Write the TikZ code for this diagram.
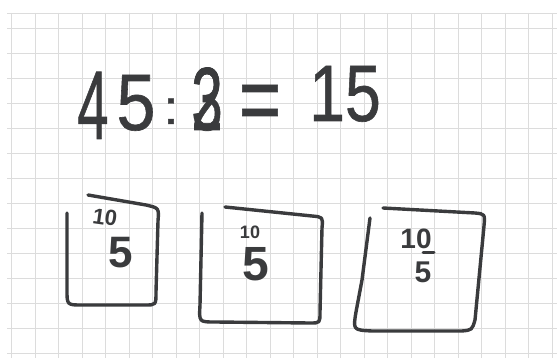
\documentclass[tikz,border=0pt]{standalone}
\usepackage{fontspec}
\setmainfont{Liberation Sans}
\newfontfamily\eqfont[FakeBold=0.8]{Liberation Sans}
\definecolor{ink}{HTML}{3A3B3D}
\definecolor{gridc}{HTML}{DCDCDC}
\begin{document}
\begin{tikzpicture}[x=1pt,y=-1pt,
  gridline/.style={draw=gridc,line width=0.9pt},
  boxline/.style={draw=ink,line width=3.4pt,line cap=round,line join=round},
  tight/.style={inner sep=0pt,anchor=base},
  big/.style={tight,text=ink,xscale=0.7,font=\eqfont\fontsize{80}{80}\selectfont},
  sm/.style={tight,text=ink,font=\bfseries\fontsize{22}{22}\selectfont},
  mid/.style={tight,text=ink,font=\bfseries\fontsize{44}{44}\selectfont}]
\useasboundingbox (0,0) rectangle (557,358);
\fill[white] (0,0) rectangle (557,358);
% grid
\foreach \i in {0,...,23} {
  \draw[gridline] ({11.5+23.5*\i},13) -- ({11.5+23.5*\i},358);
}
\foreach \j in {0,...,13} {
  \draw[gridline] (7,{28+25*\j}) -- (557,{28+25*\j});
}
\draw[gridline] (7,13) -- (557,13);
% equation
\node[big,yscale=1.22] (n4) at (93,139) {4};
\node[big,xscale=1.25] (n5) at (136,130) {5};
\node[big,yscale=0.6] (col) at (171,124) {:};
\node[big,yscale=1.12] (n2) at (207,130) {2};
\node[big,yscale=1.12] (n3) at (207,130) {3};
\node[big,xscale=1.3,yscale=1.2] (eq) at (260,132) {=};
\node[big,xscale=1.15] (n15) at (345,121) {15};
% box 1
\draw[boxline] (67,213) -- (67,290) .. controls (67,305) .. (82,305) -- (145,305)
  .. controls (156,305) .. (156,292) -- (158,221) .. controls (159,208) .. (146,205) -- (88,195);
\node[sm,rotate=-8] (b1t) at (104,225) {10};
\node[mid] (b1b) at (121,268) {5};
% box 2
\draw[boxline] (202,213) -- (200,305) .. controls (199,322) .. (215,322) -- (310,323)
  .. controls (320,323) .. (320,312) -- (322,228) .. controls (323,217) .. (312,216) -- (225,207);
\node[sm,font=\bfseries\fontsize{18}{18}\selectfont] (b2t) at (250,239) {10};
\node[mid,font=\bfseries\fontsize{48}{48}\selectfont] (b2b) at (256,280) {5};
% box 3
\draw[boxline] (370,218) -- (362,280) -- (356,312) .. controls (353,330) .. (372,331) -- (462,331)
  .. controls (472,330) .. (475,320) -- (484,226) .. controls (485,214) .. (475,213) -- (383,208);
\node[sm,font=\bfseries\fontsize{28}{28}\selectfont] (b3t) at (416,248) {10};
\draw[ink,line width=3pt,line cap=round] (423,253) -- (434,253);
\node[sm,font=\bfseries\fontsize{30}{30}\selectfont] (b3b) at (423,282) {5};
\end{tikzpicture}
\end{document}
